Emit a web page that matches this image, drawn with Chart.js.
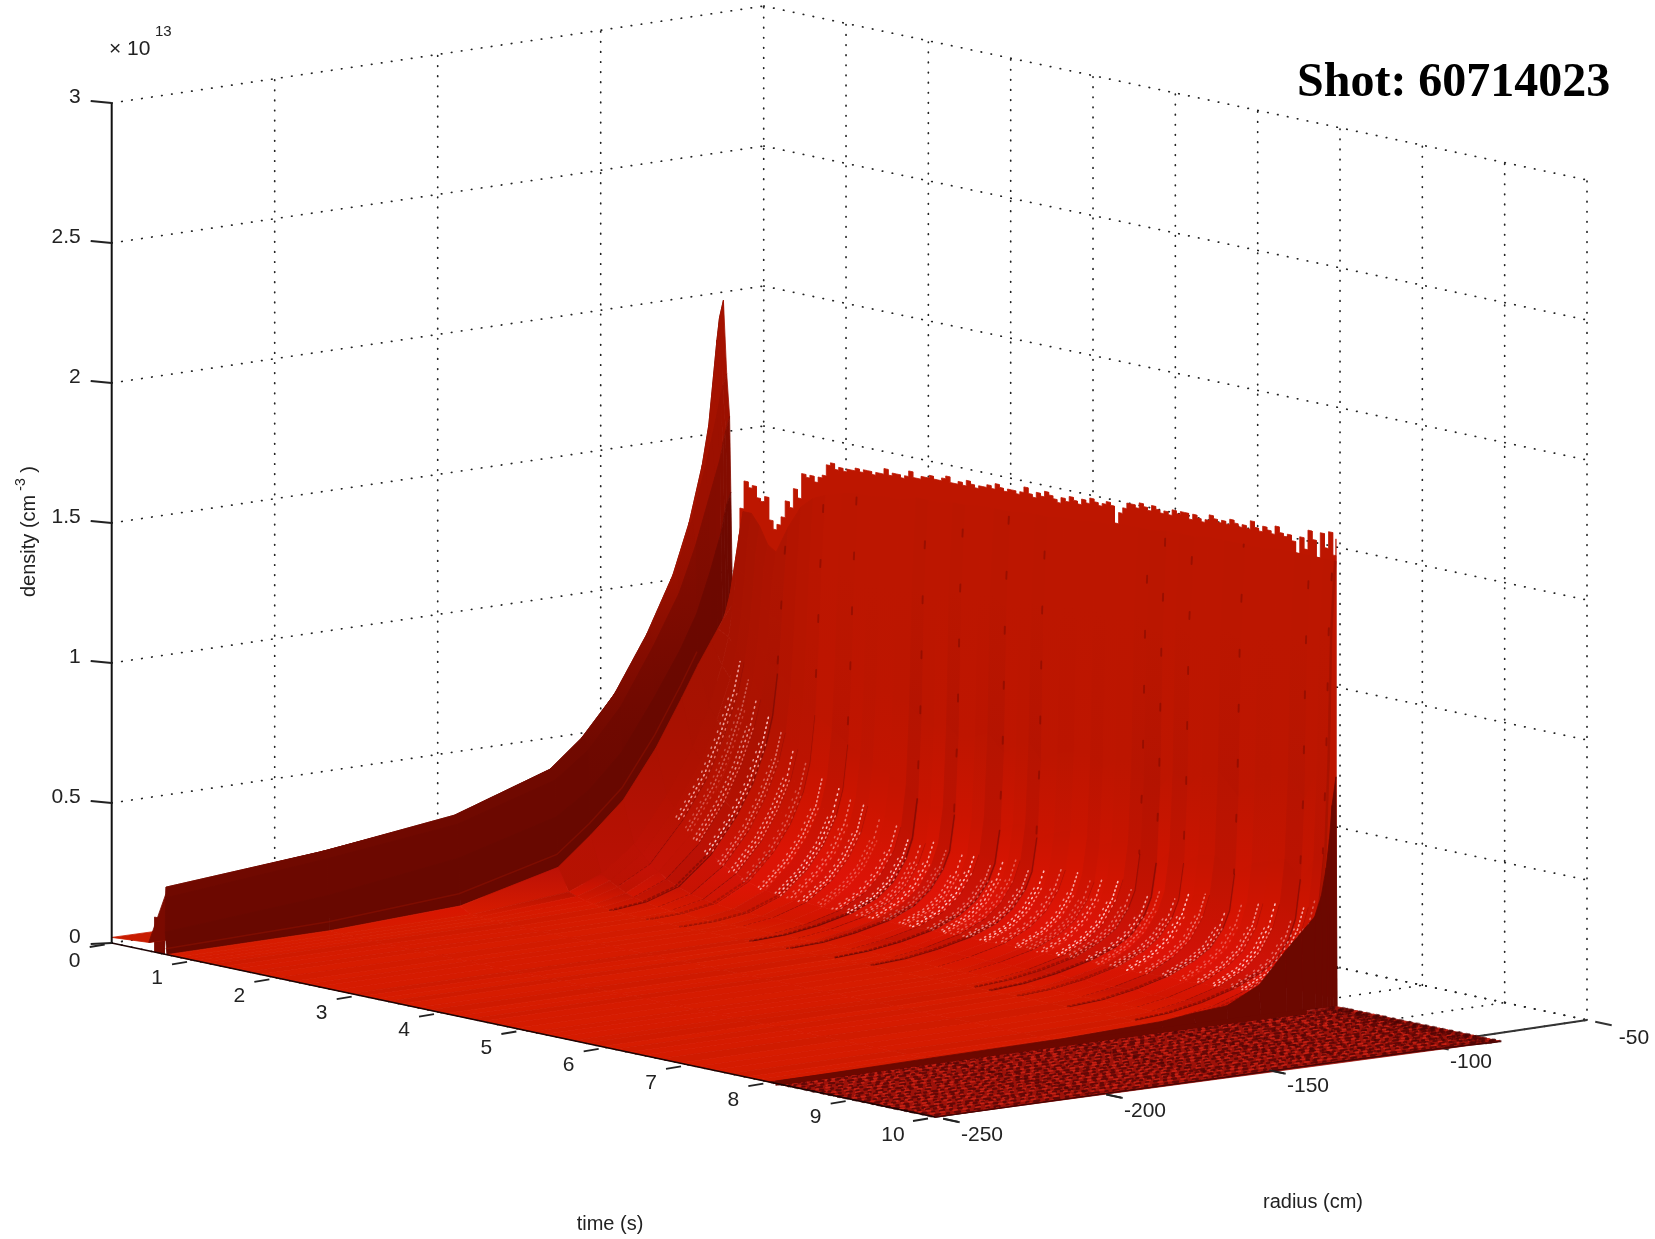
<!DOCTYPE html>
<html><head><meta charset="utf-8">
<style>html,body{margin:0;padding:0;background:#fff}canvas{display:block}</style>
<script src="https://cdn.jsdelivr.net/npm/chart.js@4"></script>
</head><body><canvas id="c" width="1655" height="1239"></canvas>
<script>
// ---- axis ticks ----
const timeTicks=[0,1,2,3,4,5,6,7,8,9,10];
const radiusTicks=[-250,-200,-150,-100,-50];
const densityTicks=[0,0.5,1,1.5,2,2.5,3];
const densityTickLabels=['0','0.5','1','1.5','2','2.5','3'];
// ---- surface samples (density in 1e13 cm^-3) ----
const radii=[-250,-200,-160,-130,-120,-110,-100,-92,-87,-83,-81,-79.5,-78.5,-77.7,-76.5];
const floorLevel=[0,-.006,-.012,-.016,-.018,-.02,-.022,-.025,-.026,-.028,-.029,-.03,-.03,-.03,-.03];
const wedgeTimes=[0,.45,.5,.56,.6,.635,.65,.67];
const wedgeStartRadius=[-250,-250,-246,-247.5,-248.5,-249.5,-250,-250];
const wedgeRows=[
[.02,.02,.02,.02,.02,.02,.02,.02,.02,.02,.02,.02,.02,.02,.02],
[.03,.03,.03,.03,.03,.03,.03,.03,.03,.03,.03,.03,.03,.03,.03],
[.2,.22,.25,.3,.34,.4,.5,.6,.7,.8,.88,.95,1,1.05,1.1],
[.23,.28,.34,.46,.56,.7,.9,1.1,1.28,1.48,1.62,1.8,1.92,2,2.06],
[.23,.285,.35,.47,.57,.72,.92,1.12,1.3,1.48,1.58,1.66,1.72,1.76,1.8],
[.2,.26,.32,.43,.52,.66,.86,1.04,1.2,1.36,1.44,1.5,1.56,1.6,1.65],
[.08,.13,.2,.3,.38,.5,.68,.84,.96,1.1,1.18,1.24,1.3,1.34,1.38],
[0,.005,.03,.12,.22,.33,.5,.67,.78,.86,.9,.93,.96,.98,1]];
const stepTimes=[.52,.64];
const stepDensity=.125;
const sliceTimes=[.8,.9,1,1.1,1.2,1.35,1.5,1.65,1.8,2,2.2,2.35,2.5,2.7,2.9,3.05,3.2,3.35,3.5,3.7,3.85,4.05,4.2,4.35,4.5,4.7,4.9,5.1,5.25,5.4,5.6,5.75,5.95,6.1,6.28,6.45,6.65,6.9,7.1,7.3,7.5,7.7,7.85,7.98];
const sliceRows=[
[0,.001,.008,.04,.09,.18,.34,.5,.64,.78,.88,1,1.12,1.24,1.32],
[0,0,.006,.03,.07,.15,.3,.46,.6,.74,.84,.97,1.1,1.22,1.32],
[0,0,.004,.022,.055,.12,.26,.41,.55,.69,.8,.93,1.06,1.18,1.28],
[0,0,.002,.015,.04,.1,.22,.37,.5,.64,.74,.88,1.02,1.14,1.22],
[0,0,.001,.01,.03,.08,.19,.33,.45,.58,.68,.82,.98,1.1,1.2],
[0,0,0,.006,.02,.06,.16,.29,.4,.53,.63,.78,.96,1.12,1.3],
[0,0,0,.004,.014,.045,.13,.25,.36,.48,.58,.74,.94,1.14,1.38],
[0,0,0,.002,.01,.035,.11,.22,.32,.43,.53,.7,.92,1.16,1.42],
[0,0,0,.001,.007,.028,.09,.19,.28,.39,.49,.66,.9,1.16,1.44],
[0,0,0,0,.005,.022,.075,.165,.25,.35,.45,.62,.88,1.18,1.46],
[0,0,0,0,.004,.02,.065,.15,.23,.33,.42,.58,.84,1.16,1.47],
[0,0,0,0,.004,.02,.06,.14,.21,.31,.4,.56,.82,1.16,1.47],
[0,0,0,.001,.005,.022,.06,.13,.2,.29,.38,.54,.8,1.16,1.48],
[0,0,0,.001,.006,.024,.058,.12,.18,.27,.35,.5,.78,1.18,1.48],
[0,0,0,.001,.006,.024,.056,.11,.17,.25,.33,.48,.76,1.18,1.5],
[0,0,0,.002,.008,.026,.055,.1,.15,.23,.3,.44,.72,1.18,1.5],
[0,0,0,.002,.007,.024,.052,.095,.145,.225,.29,.42,.7,1.2,1.5],
[0,0,0,.002,.008,.026,.054,.1,.15,.23,.3,.43,.72,1.2,1.51],
[0,0,0,.003,.009,.028,.056,.1,.15,.22,.28,.41,.68,1.18,1.51],
[0,0,0,.003,.009,.026,.054,.095,.14,.215,.28,.41,.7,1.2,1.52],
[0,0,0,.003,.01,.028,.056,.1,.15,.225,.29,.43,.72,1.22,1.52],
[0,0,0,.004,.012,.03,.058,.1,.145,.21,.27,.39,.66,1.18,1.52],
[0,0,0,.003,.01,.028,.056,.1,.15,.225,.29,.42,.7,1.22,1.53],
[0,0,0,.004,.011,.03,.06,.105,.155,.23,.3,.43,.72,1.22,1.53],
[0,0,0,.005,.013,.032,.06,.1,.145,.21,.27,.39,.66,1.2,1.53],
[0,0,0,.004,.012,.03,.058,.1,.15,.225,.29,.42,.7,1.22,1.54],
[0,0,0,.004,.012,.032,.062,.11,.16,.235,.3,.44,.72,1.24,1.54],
[0,0,0,.004,.011,.03,.06,.105,.155,.23,.3,.43,.72,1.24,1.55],
[0,0,0,.005,.013,.033,.062,.105,.15,.22,.28,.41,.68,1.22,1.55],
[0,0,0,.004,.012,.03,.06,.105,.155,.23,.3,.43,.72,1.24,1.56],
[0,0,0,.004,.012,.03,.06,.11,.16,.24,.31,.45,.74,1.26,1.56],
[0,0,0,.005,.014,.034,.064,.11,.15,.22,.28,.41,.68,1.22,1.56],
[0,0,0,.006,.015,.036,.066,.105,.145,.21,.27,.39,.66,1.2,1.57],
[0,0,0,.005,.013,.032,.062,.11,.16,.235,.3,.44,.72,1.26,1.57],
[0,0,0,.006,.015,.035,.066,.11,.155,.22,.28,.41,.68,1.22,1.57],
[0,0,0,.005,.013,.032,.062,.11,.16,.24,.31,.45,.74,1.26,1.58],
[0,0,0,.005,.014,.034,.064,.115,.165,.245,.32,.46,.76,1.28,1.58],
[0,0,0,.007,.016,.038,.07,.115,.155,.22,.28,.41,.68,1.24,1.58],
[0,0,0,.006,.014,.034,.066,.115,.165,.245,.32,.46,.76,1.28,1.58],
[0,0,0,.006,.015,.036,.07,.12,.17,.25,.33,.48,.78,1.3,1.59],
[0,0,0,.006,.015,.036,.07,.12,.175,.26,.34,.5,.8,1.3,1.59],
[0,0,0,.008,.018,.04,.075,.12,.16,.23,.3,.44,.72,1.26,1.59],
[0,0,0,.008,.018,.04,.08,.13,.18,.27,.35,.52,.84,1.32,1.59],
[0,0,0,.01,.02,.045,.085,.14,.2,.29,.38,.55,.88,1.34,1.59]];
const sliceDarkness=[.15,.2,.3,.2,.35,.75,.35,.3,.5,.2,.55,.2,.4,.25,.3,.85,.3,.2,.8,.2,.35,.8,.2,.3,.75,.25,.35,.2,.45,.25,.3,.65,.8,.2,.6,.25,.3,.7,.2,.35,.3,.75,.3,.5];
const lastFaceTime=8;
const lastFaceRow=[0,.007,.012,.025,.04,.05,.11,.22,.28,.33,.4,.5,.6,.72,.82];
const faceFootTime=8.015;
const tailEndTime=10;
const tailTimes=[8.14,8.22,8.33,8.41,8.52,8.6,8.71,8.82,8.9,9.01,9.1,9.21,9.3,9.41,9.5,9.62,9.7,9.81,9.93];
// Jagged crest at the outer edge, one sample every 0.05 s from 0.66 s
const crestStart=.66, crestStep=.05;
const crestDensity=[1.00,1.12,1.30,1.40,1.38,1.39,1.35,1.34,1.36,1.28,1.25,1.27,1.30,1.36,1.34,1.41,1.38,1.47,1.46,1.47,
1.45,1.47,1.48,1.52,1.53,1.51,1.52,1.51,1.52,1.52,1.53,1.52,1.53,1.53,1.52,1.53,1.53,1.55,1.53,1.54,
1.54,1.53,1.54,1.56,1.54,1.54,1.55,1.55,1.56,1.55,1.55,1.56,1.57,1.55,1.55,1.56,1.55,1.57,1.56,1.55,
1.56,1.56,1.57,1.56,1.58,1.57,1.56,1.57,1.57,1.56,1.57,1.59,1.57,1.56,1.58,1.57,1.59,1.58,1.57,1.56,
1.58,1.57,1.59,1.58,1.57,1.59,1.58,1.60,1.59,1.58,1.59,1.60,1.59,1.53,1.57,1.59,1.61,1.61,1.60,1.62,
1.61,1.60,1.62,1.61,1.60,1.61,1.60,1.62,1.61,1.62,1.62,1.60,1.62,1.61,1.60,1.61,1.63,1.62,1.61,1.62,
1.61,1.63,1.62,1.61,1.62,1.61,1.64,1.62,1.61,1.63,1.62,1.61,1.64,1.62,1.61,1.62,1.60,1.56,1.62,1.58,
1.65,1.62,1.56,1.65,1.60,1.66,1.58,1.64];

// ---- view: oblique projection of (time, radius, density) on the chart's x/y scales ----
const proj=(t,r,z)=>({x:111.7+82.33*t+3.26*(r+250),y:943+17.4*t-.485*(r+250)-280*z});
const DS=[];
const addLine=(pts,color,width,dash,off)=>DS.push({data:pts,showLine:true,pointRadius:0,borderColor:color,borderWidth:width,borderDash:dash||[],borderDashOffset:off||0,borderCapStyle:dash?'round':'butt',clip:false});
const addPoly=(pts,color)=>DS.push({data:pts.concat([pts[0]]),showLine:true,pointRadius:0,borderColor:color,borderWidth:.8,polyFill:color,clip:false});
const addGradPoly=(pts,grad)=>DS.push({data:pts,showLine:false,pointRadius:0,borderWidth:0,polyGrad:grad,clip:false});
const dots=[.5,9.6];
const gridCol='#222';
const tMin=0,tMax=10,rMin=-250,rMax=-50,zMax=3;
// floor grid
timeTicks.forEach(t=>addLine([proj(t,rMin,0),proj(t,rMax,0)],gridCol,1.7,dots));
radiusTicks.forEach(r=>addLine([proj(tMin,r,0),proj(tMax,r,0)],gridCol,1.7,dots));
// back walls
densityTicks.forEach(z=>{addLine([proj(tMin,rMin,z),proj(tMin,rMax,z)],gridCol,1.7,dots);addLine([proj(tMin,rMax,z),proj(tMax,rMax,z)],gridCol,1.7,dots);});
radiusTicks.forEach(r=>{if(r>rMin)addLine([proj(tMin,r,0),proj(tMin,r,zMax)],gridCol,1.7,dots);});
timeTicks.forEach(t=>{if(t>0)addLine([proj(t,rMax,0),proj(t,rMax,zMax)],gridCol,1.7,dots);});
// radius axis, partly hidden by the surface
addLine([proj(tMax,rMin,0),proj(tMax,rMax,0)],'#333',2);
radiusTicks.forEach(r=>addLine([proj(tMax+.1,r,0),proj(tMax+.3,r,0)],'#333',2));

const surf=(t,j,row)=>proj(t,radii[j],row[j]+floorLevel[j]);
const hex=s=>[1,3,5].map(i=>parseInt(s.substr(i,2),16));
const mixRGB=(A,B,k)=>A.map((v,i)=>v+(B[i]-v)*k);
const css=A=>'rgb('+A.map(Math.round).join(',')+')';
const zStops=[[0.004,hex('#d81c00')],[.03,hex('#dc1600')],[.12,hex('#e81408')],[.3,hex('#d91500')],[.6,hex('#c21500')],[1,hex('#bd1600')]];
function surfaceColor(z,dark,early){
  let c=zStops[zStops.length-1][1];
  if(z<=zStops[0][0]) c=zStops[0][1];
  else for(let k=1;k<zStops.length;k++){ if(z<=zStops[k][0]){c=mixRGB(zStops[k-1][1],zStops[k][1],(z-zStops[k-1][0])/(zStops[k][0]-zStops[k-1][0]));break;} }
  const w=z<.02?.4:z<.5?1:z<1?1-.8*(z-.5)/.5:.15;
  c=mixRGB(c,hex('#6a0806'),dark*w);
  if(z>.03) c=mixRGB(c,hex('#7a0c02'),early);
  return css(c);
}
// first crash: colours follow the height inside each ribbon
const wedgeLow=['#c81c00','#7a0a00','#700900','#740a00','#700900','#6c0800','#680800'];
const wedgeHigh=['#c81c00','#7a0a00','#720900','#a41200','#9c1000','#840c00','#6e0800'];
const wedgeColor=(z,i)=>css(mixRGB(hex(wedgeLow[i]),hex(wedgeHigh[i]),Math.max(0,Math.min(1,(z-.55)/.6))));
addPoly([proj(stepTimes[0],rMin,0),proj(stepTimes[0],rMin,stepDensity),proj(stepTimes[1],rMin,stepDensity),proj(stepTimes[1],rMin,0)],'#7a0a00');
for(let i=0;i<wedgeTimes.length-1;i++){
  const r0=wedgeRows[i],r1=wedgeRows[i+1],t0=wedgeTimes[i],t1=wedgeTimes[i+1];
  for(let j=radii.length-2;j>=0;j--){
    const q=[surf(t0,j,r0),surf(t0,j+1,r0),surf(t1,j+1,r1),surf(t1,j,r1)];
    if(j===0){const s0=wedgeStartRadius[i]-rMin,s1=wedgeStartRadius[i+1]-rMin;q[0].x+=3.26*s0;q[0].y-=.485*s0;q[3].x+=3.26*s1;q[3].y-=.485*s1;}
    const zs=[r0[j],r0[j+1],r1[j+1],r1[j]];
    const lo=Math.min(...zs),hi=Math.max(...zs);
    addGradPoly(q,[q[zs.indexOf(lo)].y,q[zs.indexOf(hi)].y,wedgeColor(lo,i),wedgeColor(hi,i)]);
  }
}
// faint lighter thread in the wedge
addLine(radii.slice(0,9).map((r,j)=>surf(.655,j,wedgeRows[6].map((v,k)=>(v*.25+wedgeRows[7][k]*.75)))),'rgba(140,16,0,.6)',1.5);
// crest wall at the outer edge, drawn as a staircase
{const e=radii[radii.length-1];
 const top=[];
 crestDensity.forEach((z,i)=>{
   const a=crestStart+i*crestStep,b=Math.min(lastFaceTime,a+crestStep);
   top.push(proj(Math.min(a,lastFaceTime),e,z),proj(b,e,z));
 });
 addPoly(top.concat([proj(lastFaceTime,e,0),proj(crestStart,e,0)]),'#bd1600');}
// main surface
const allT=[wedgeTimes[wedgeTimes.length-1]].concat(sliceTimes);
const allR=[wedgeRows[wedgeRows.length-1]].concat(sliceRows);
for(let i=0;i<allT.length-1;i++){
  const s=sliceDarkness[i]*.26;
  const early=allT[i+1]<1.9?.38*(1.9-allT[i+1])/1.1:0;
  const r0=allR[i],r1=allR[i+1],t0=allT[i],t1=allT[i+1];
  for(let j=radii.length-2;j>=0;j--){
    const q=[surf(t0,j,r0),surf(t0,j+1,r0),surf(t1,j+1,r1),surf(t1,j,r1)];
    const zs=[r0[j],r0[j+1],r1[j+1],r1[j]];
    const lo=Math.min(...zs),hi=Math.max(...zs);
    const yLo=q[zs.indexOf(lo)].y,yHi=q[zs.indexOf(hi)].y;
    addGradPoly(q,[yLo,yHi,surfaceColor(lo,s,early),surfaceColor(hi,s,early)]);
  }
  // dark streak along this time slice
  const d=sliceDarkness[i];
  const rowAt=(a,b,tt)=>{const p=[];for(let j=a;j<b;j++)p.push(surf(tt,j,r1));return p;};
  if(d>=.5){
    addLine(rowAt(7,12,t1),'rgba(95,6,6,'+(d*.6).toFixed(2)+')',d*5);
    addLine(rowAt(3,8,t1),'rgba(85,6,6,'+(d*.75).toFixed(2)+')',d*4,[2.5,2.5],i);
    addLine(rowAt(3,8,t1-.05),'rgba(85,6,6,'+(d*.5).toFixed(2)+')',2,[2,3],i*2);
    addLine(rowAt(11,15,t1-.02),'rgba(80,0,0,.3)',2,[7,48],i*9);
  } else if(d>=.3){
    addLine(rowAt(5,11,t1),'rgba(130,10,8,.45)',2);
    addLine(rowAt(4,8,t1),'rgba(110,8,8,.5)',1.8,[2,3],i);
  }
  // bright specks at the foot of the rise
  if(t1>.95){
    const a=[.95,.55,.8,.4,.7][i%5];
    addLine(rowAt(6,11,t1-.06),'rgba(255,200,200,'+a+')',1.6,[1.2,[3.2,4.6,3.8][i%3]],i*2);
    addLine(rowAt(6,10,t1-.02),'rgba(255,150,140,'+(a*.85).toFixed(2)+')',1.5,[1.2,[5,3.4,6.2][i%3]],i*5);
    addLine(rowAt(5,10,t1+.04),'rgba(255,90,80,.8)',1.5,[1.2,4.4],i);
    addLine(rowAt(6,10,t1-.1),'rgba(255,225,225,'+(a*.7).toFixed(2)+')',1.5,[1.2,[6,4.2,7.4][i%3]],i*3);
    addLine(rowAt(5,9,t1+.08),'rgba(255,120,110,.6)',1.4,[1.2,5.4],i*4);
    addLine(rowAt(4,8,t1+.11),'rgba(120,8,6,.55)',1.6,[1.5,3.5],i*3);
  }
}
// closing ribbon into the last face, then the dark last face
const lastRow=sliceRows[sliceRows.length-1];
{const t0=sliceTimes[sliceTimes.length-1];
 for(let j=radii.length-2;j>=0;j--)addPoly([surf(t0,j,lastRow),surf(t0,j+1,lastRow),surf(lastFaceTime,j+1,lastRow),surf(lastFaceTime,j,lastRow)],'#a81300');}
const zeroRow=radii.map(()=>0);
for(let j=radii.length-2;j>=0;j--)addPoly([surf(lastFaceTime,j,lastFaceRow),surf(lastFaceTime,j+1,lastFaceRow),surf(faceFootTime,j+1,zeroRow),surf(faceFootTime,j,zeroRow)],'#6c0800');
// noisy tail after the plasma ends
{const f=j=>floorLevel[j],n=radii.length-1;
 addPoly([proj(faceFootTime,radii[0],f(0)),proj(faceFootTime,radii[n],f(n)),proj(tailEndTime,radii[n],f(n)),proj(tailEndTime,radii[0],f(0))],'#9c120a');
 tailTimes.forEach((t,i)=>{
   addLine(radii.map((r,j)=>proj(t,r,f(j))),'rgba(80,6,6,.75)',2.4,[3+i%4,4+i%5,2,6],i*3);
   addLine(radii.map((r,j)=>proj(t+.05,r,f(j))),'rgba(210,36,22,.8)',1.8,[2+i%3,5+i%4,4,9],i*5);
 });
 radii.forEach((r,j)=>addLine([proj(faceFootTime,r,f(j)),proj(tailEndTime,r,f(j))],'rgba(70,4,4,.5)',2.5,[2,5,3,7],j*2));
 addLine(radii.map((r,j)=>proj(tailEndTime,r,f(j))),'#4a0504',1.6);
 addLine(radii.slice(0,9).map((r,j)=>proj(faceFootTime+.045,r,f(j))),'#6c0800',5);
}
// axes on top
addLine([proj(tMin,rMin,0),proj(tMax,rMin,0)],'#1c0404',1.6);
addLine([proj(tMin,rMin,0),proj(tMin,rMin,zMax)],'#111',2);
densityTicks.forEach(z=>{const a=proj(tMin,rMin,z);addLine([a,{x:a.x-21,y:a.y-(z===0?-1:2)}],'#222',2);});
timeTicks.forEach(t=>{const a=proj(t,rMin,0);addLine([{x:a.x-7,y:a.y+1.5},{x:a.x-22,y:a.y+4}],'#222',1.8);});
radiusTicks.forEach(r=>{if(r<-100)addLine([proj(tMax+.1,r,0),proj(tMax+.28,r,0)],'#222',1.8);});
// Chart.js paints the first dataset last, so hand them over far-to-near reversed
DS.reverse();

const fillPlugin={id:'polyFill',beforeDatasetDraw(chart,args){
  const ds=chart.data.datasets[args.index];if(!ds.polyFill&&!ds.polyGrad)return;
  const pts=chart.getDatasetMeta(args.index).data,ctx=chart.ctx;
  ctx.save();ctx.beginPath();pts.forEach((p,i)=>i?ctx.lineTo(p.x,p.y):ctx.moveTo(p.x,p.y));ctx.closePath();
  if(ds.polyGrad){
    const [y0,y1,c0,c1]=ds.polyGrad,Y=chart.scales.y;
    let paint=c1;
    if(Math.abs(y1-y0)>=1){paint=ctx.createLinearGradient(0,Y.getPixelForValue(y0),0,Y.getPixelForValue(y1));paint.addColorStop(0,c0);paint.addColorStop(1,c1);}
    ctx.fillStyle=paint;ctx.strokeStyle=paint;ctx.lineWidth=.8;ctx.fill();ctx.stroke();
  } else { ctx.fillStyle=ds.polyFill;ctx.fill(); }
  ctx.restore();
}};
const labelPlugin={id:'labels',afterDraw(chart){
  const ctx=chart.ctx,X=chart.scales.x,Y=chart.scales.y;
  const at=(p,dx,dy)=>[X.getPixelForValue(p.x)+dx,Y.getPixelForValue(p.y)+dy];
  ctx.save();ctx.fillStyle='#222';ctx.textBaseline='middle';ctx.font='21px "Liberation Sans"';
  ctx.textAlign='center';
  timeTicks.forEach(t=>{const [x,y]=at(proj(t,rMin,0),t===10?-42:-37,18);ctx.fillText(String(t),x,y);});
  radiusTicks.forEach(r=>{const [x,y]=at(proj(tMax,r,0),47,18);ctx.fillText(String(r),x,y);});
  ctx.textAlign='right';
  densityTicks.forEach((z,i)=>{const [x,y]=at(proj(tMin,rMin,z),-31,-6);ctx.fillText(densityTickLabels[i],x,y);});
  ctx.textAlign='left';
  ctx.fillText('\u00d7 10',109,49);
  ctx.font='15px "Liberation Sans"';ctx.fillText('13',155,32);
  ctx.font='20px "Liberation Sans"';ctx.textAlign='center';
  ctx.fillText('time (s)',610,1224);ctx.fillText('radius (cm)',1313,1202);
  ctx.translate(29,527);ctx.rotate(-Math.PI/2);ctx.textAlign='left';
  ctx.fillText('density (cm',-70,0);
  const w=ctx.measureText('density (cm').width;
  ctx.font='14px "Liberation Sans"';ctx.fillText('-3',-70+w+4,-8);
  ctx.font='20px "Liberation Sans"';ctx.fillText(')',-70+w+22,0);
  ctx.restore();
  ctx.save();ctx.fillStyle='#000';ctx.font='bold 48px "Liberation Serif"';ctx.textAlign='left';ctx.textBaseline='alphabetic';
  ctx.fillText('Shot: 60714023',1297,96);ctx.restore();
}};
new Chart(document.getElementById('c'),{type:'scatter',data:{datasets:DS},plugins:[fillPlugin,labelPlugin],options:{
  responsive:false,animation:false,events:[],layout:{padding:0},
  elements:{line:{tension:0}},
  plugins:{legend:{display:false},tooltip:{enabled:false},title:{display:false}},
  scales:{x:{type:'linear',min:0,max:1655,display:false},y:{type:'linear',min:0,max:1239,reverse:true,display:false}}
}});
</script></body></html>
